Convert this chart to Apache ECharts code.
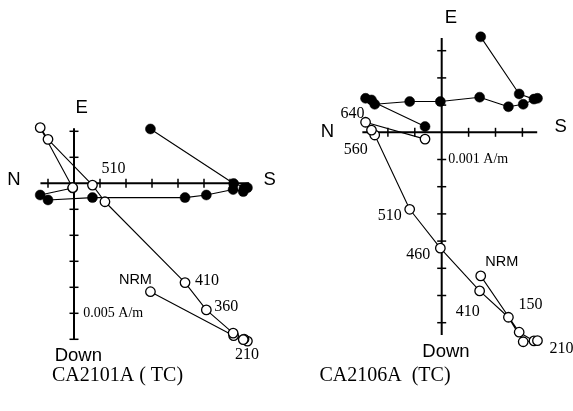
<!DOCTYPE html>
<html>
<head>
<meta charset="utf-8">
<script src="https://cdn.jsdelivr.net/npm/echarts@6/dist/echarts.min.js"></script>
<style>
  html, body { margin: 0; padding: 0; background: #fff; }
  #main { width: 573px; height: 411px; }
</style>
</head>
<body>
<div id="main"></div>
<script>
// Orthogonal vector (Zijderveld) projections of two specimens.
// Components in units of 0.001 A/m. N-S is shared by both projections
// (positive = S); E is the horizontal projection (solid), Down the vertical one (open).

// ---- Specimen CA2101A ----
const stepsA = ['NRM', '210', '', '', '', '', '360', '410', '', '510', '', '', ''];
const southA = [2.94, 6.14, 6.67, 6.54, 6.51, 6.12, 5.09, 4.27, 1.19, 0.71, -1.00, -1.30, -0.05];
const eastA  = [2.09, -0.01, -0.17, -0.19, -0.32, -0.24, -0.45, -0.55, null, -0.55, -0.64, -0.45, -0.18];
const downA  = [4.17, 5.86, 6.07, 5.99, 6.01, 5.76, 4.87, 3.82, 0.71, 0.07, -1.69, -2.14, 0.17];
const ticksAx = [-1, 1, 2, 3, 4, 5, 6];
const ticksAy = [-6, -5, -4, -3, -2, -1, 1, 2];
const scaleA = { at: -5, text: '0.005 A/m' };
const titleA = 'CA2101A ( TC)';

// ---- Specimen CA2106A ----
const stepsB = ['NRM', '', '', '210', '', '150', '410', '460', '510', '560', '', '640', ''];
const southB = [1.45, 2.88, 3.43, 3.56, 3.03, 2.48, 1.41, -0.05, -1.19, -2.49, -2.61, -2.83, -0.62];
const eastB  = [3.51, 1.41, 1.22, 1.25, 1.03, 0.94, 1.29, 1.13, 1.13, 1.03, 1.19, 1.25, 0.21];
const downB  = [5.28, 7.35, 7.67, 7.66, 7.70, 6.80, 5.83, 4.26, 2.83, 0.10, -0.08, -0.37, 0.25];
const ticksBx = [-2, -1, 1, 2, 3];
const ticksBy = [-7, -6, -5, -4, -3, -2, -1, 1, 2, 3];
const scaleB = { at: -1, text: '0.001 A/m' };
const titleB = 'CA2106A  (TC)';

// ---- layout (pixels / axis extents) ----
const panels = [
  {
    grid: { left: 22, top: 105.3, width: 234, height: 260 },
    xr: [-2, 7], yr: [-7, 3],
    axX: [-1.29, 6.73], axY: [-6.02, 2.12],
    letters: { E: [7.7, -20.4], Down: [4.3, 16], N: [-26.5, -3.3], S: [20.7, -3.3] },
    scaleDx: 9.3,
    labelOff: { 'NRM': [-15, -12], '210': [13.4, 19.3], '360': [20, -3], '410': [22, -2], '510': [21, -16] },
    titleX: 117.5
  },
  {
    grid: { left: 347.55, top: 23.5, width: 215.2, height: 326.4 },
    xr: [-3.5, 4.5], yr: [-8, 4],
    axX: [-2.95, 3.55], axY: [-7.45, 3.47],
    letters: { E: [9.3, -19.7], Down: [4.3, 16.7], N: [-34.8, -0.6], S: [23.5, -5.6] },
    scaleDx: 6.6,
    labelOff: { 'NRM': [21, -14], '150': [22, -12], '210': [24, 8], '410': [-12, 21],
                '460': [-22, 7], '510': [-20, 7], '560': [-19, 15], '640': [-13, -8] },
    titleX: 385
  }
];

const SANS = '"Liberation Sans", Arial, sans-serif';
const SERIF = '"Liberation Serif", "Times New Roman", serif';

function crossAxes(idx, p, tx, ty, scale) {
  return {
    type: 'custom', xAxisIndex: idx, yAxisIndex: idx, data: [0], silent: true, z: 1,
    renderItem: function (params, api) {
      const kids = [];
      const P = (x, y) => api.coord([x, y]);
      const seg = (a, b, w) => kids.push({ type: 'line',
        shape: { x1: a[0], y1: a[1], x2: b[0], y2: b[1] },
        style: { stroke: '#000', lineWidth: w } });
      const txt = (s, x, y, font, align) => kids.push({ type: 'text',
        style: { text: s, x: x, y: y, font: font, fill: '#000', align: align || 'center', verticalAlign: 'middle' } });
      seg(P(p.axX[0], 0), P(p.axX[1], 0), 2);
      seg(P(0, p.axY[0]), P(0, p.axY[1]), 2);
      const h = 4.5;
      tx.forEach(v => { const c = P(v, 0); seg([c[0], c[1] - h], [c[0], c[1] + h], 1.5); });
      ty.forEach(v => { const c = P(0, v); seg([c[0] - h, c[1]], [c[0] + h, c[1]], 1.5); });
      const top = P(0, p.axY[1]), bot = P(0, p.axY[0]), lft = P(p.axX[0], 0), rgt = P(p.axX[1], 0);
      const L = p.letters;
      txt('E', top[0] + L.E[0], top[1] + L.E[1], '18.5px ' + SANS);
      txt('Down', bot[0] + L.Down[0], bot[1] + L.Down[1], '18.5px ' + SANS);
      txt('N', lft[0] + L.N[0], lft[1] + L.N[1], '18.5px ' + SANS);
      txt('S', rgt[0] + L.S[0], rgt[1] + L.S[1], '18.5px ' + SANS);
      const sc = P(0, scale.at);
      txt(scale.text, sc[0] + p.scaleDx, sc[1], '14px ' + SERIF, 'left');
      return { type: 'group', children: kids };
    }
  };
}

function labelFor(name, p) {
  if (!name) return { show: false };
  const off = p.labelOff[name] || [0, 0];
  const isNum = /^\d+$/.test(name);
  return {
    show: true, formatter: name, position: 'inside', offset: off,
    color: '#000', fontFamily: isNum ? SERIF : SANS, fontSize: isNum ? 16 : 14.5,
    align: 'center', verticalAlign: 'middle'
  };
}

function projections(idx, p, steps, south, east, down) {
  const closed = [], open = [];
  south.forEach((s, i) => {
    if (east[i] !== null) closed.push({ value: [s, east[i]] });
    open.push({ value: [s, -down[i]], label: labelFor(steps[i], p) });
  });
  const common = {
    type: 'line', xAxisIndex: idx, yAxisIndex: idx, symbol: 'circle', symbolSize: 10,
    showAllSymbol: true, clip: false, lineStyle: { color: '#000', width: 1.1 },
    emphasis: { disabled: true }, silent: true
  };
  return [
    Object.assign({}, common, { name: 'horizontal', data: closed, z: 3,
      itemStyle: { color: '#000', borderColor: '#000', borderWidth: 0.5 } }),
    Object.assign({}, common, { name: 'vertical', data: open, z: 4, symbolSize: 9.5,
      itemStyle: { color: '#fff', borderColor: '#000', borderWidth: 1.3 } })
  ];
}

const chart = echarts.init(document.getElementById('main'), null, { renderer: 'canvas' });
chart.setOption({
  animation: false,
  backgroundColor: '#fff',
  grid: panels.map(p => Object.assign({ containLabel: false }, p.grid)),
  xAxis: panels.map((p, i) => ({ type: 'value', gridIndex: i, min: p.xr[0], max: p.xr[1], show: false })),
  yAxis: panels.map((p, i) => ({ type: 'value', gridIndex: i, min: p.yr[0], max: p.yr[1], show: false })),
  graphic: [
    { type: 'text', x: panels[0].titleX, y: 376,
      style: { text: titleA, font: '20px ' + SERIF, fill: '#000', align: 'center', verticalAlign: 'middle' } },
    { type: 'text', x: panels[1].titleX, y: 376,
      style: { text: titleB, font: '20px ' + SERIF, fill: '#000', align: 'center', verticalAlign: 'middle' } }
  ],
  series: [
    crossAxes(0, panels[0], ticksAx, ticksAy, scaleA),
    crossAxes(1, panels[1], ticksBx, ticksBy, scaleB)
  ]
    .concat(projections(0, panels[0], stepsA, southA, eastA, downA))
    .concat(projections(1, panels[1], stepsB, southB, eastB, downB))
});
</script>
</body>
</html>
